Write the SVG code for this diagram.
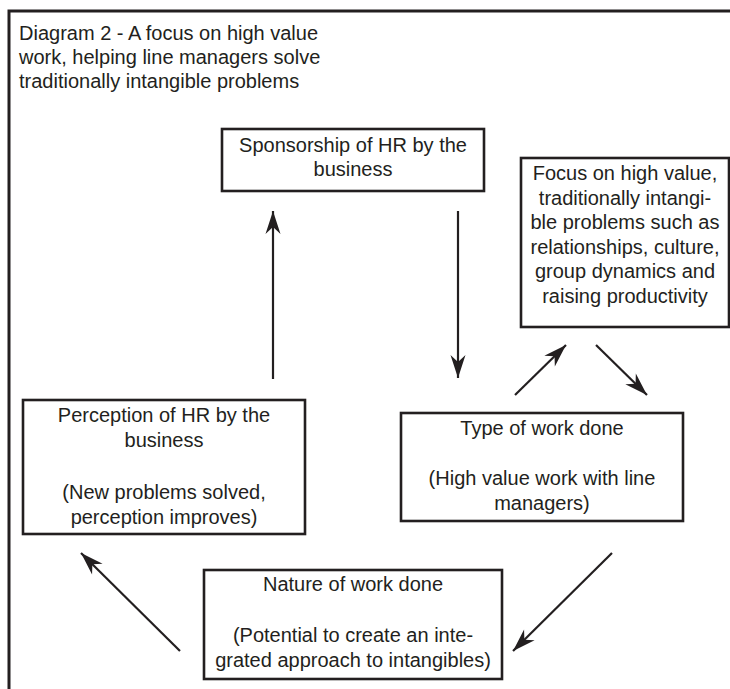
<svg xmlns="http://www.w3.org/2000/svg" width="730" height="689" viewBox="0 0 730 689">
<style>
  .box { fill: #ffffff; stroke: #231f20; stroke-width: 2.6; }
  .frame { fill: none; stroke: #231f20; stroke-width: 3; }
  .t { font-family: "Liberation Sans", Arial, sans-serif; font-size: 20px; fill: #231f20; }
  .c { text-anchor: middle; }
  .arrow { stroke: #231f20; stroke-width: 2.2; fill: none; marker-end: url(#ah); }
</style>
<defs>
  <marker id="ah" markerUnits="userSpaceOnUse" markerWidth="30" markerHeight="20" viewBox="-24 -10 26 20" refX="0" refY="0" orient="auto">
    <path d="M0,0 L-23,-7.5 L-16,0 L-23,7.5 Z" fill="#231f20"/>
  </marker>
</defs>
<rect width="730" height="689" fill="#ffffff"/>
<path class="frame" d="M9,689 L9,11 L730,11"/>
<g id="title">
  <text class="t" x="19" y="40">Diagram 2 - A focus on high value</text>
  <text class="t" x="19" y="64">work, helping line managers solve</text>
  <text class="t" x="19" y="88">traditionally intangible problems</text>
</g>
<g id="sponsorship">
  <rect class="box" x="222" y="129" width="262" height="62"/>
  <text class="t c" x="353" y="152">Sponsorship of HR by the</text>
  <text class="t c" x="353" y="176">business</text>
</g>
<g id="focus">
  <rect class="box" x="521" y="158" width="208" height="169"/>
  <text class="t c" x="625" y="180">Focus on high value,</text>
  <text class="t c" x="625" y="204.5">traditionally intangi-</text>
  <text class="t c" x="625" y="229">ble problems such as</text>
  <text class="t c" x="625" y="253.5">relationships, culture,</text>
  <text class="t c" x="625" y="278">group dynamics and</text>
  <text class="t c" x="625" y="302.5">raising productivity</text>
</g>
<g id="type">
  <rect class="box" x="401" y="413" width="282" height="108"/>
  <text class="t c" x="542" y="435">Type of work done</text>
  <text class="t c" x="542" y="485">(High value work with line</text>
  <text class="t c" x="542" y="510">managers)</text>
</g>
<g id="perception">
  <rect class="box" x="23" y="400" width="282" height="134"/>
  <text class="t c" x="164" y="422">Perception of HR by the</text>
  <text class="t c" x="164" y="447">business</text>
  <text class="t c" x="164" y="499">(New problems solved,</text>
  <text class="t c" x="164" y="524">perception improves)</text>
</g>
<g id="nature">
  <rect class="box" x="204" y="570" width="298" height="109"/>
  <text class="t c" x="353" y="591">Nature of work done</text>
  <text class="t c" x="353" y="642">(Potential to create an inte-</text>
  <text class="t c" x="353" y="667">grated approach to intangibles)</text>
</g>
<g id="connectors">
  <line class="arrow" x1="273" y1="379" x2="273" y2="211"/>
  <line class="arrow" x1="458" y1="211" x2="458" y2="378"/>
  <line class="arrow" x1="515" y1="395" x2="566" y2="345"/>
  <line class="arrow" x1="596" y1="345" x2="647" y2="395"/>
  <line class="arrow" x1="612" y1="553" x2="513" y2="651"/>
  <line class="arrow" x1="180" y1="651" x2="81" y2="553"/>
</g>
</svg>
